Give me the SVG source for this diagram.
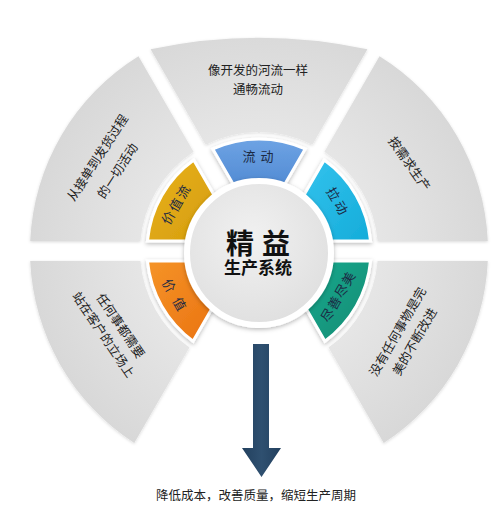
<svg xmlns="http://www.w3.org/2000/svg" width="500" height="519" viewBox="0 0 500 519">
<defs>
  <radialGradient id="gGray" cx="259" cy="251" r="229" gradientUnits="userSpaceOnUse">
    <stop offset="0.5" stop-color="#e6e6e6"/>
    <stop offset="1" stop-color="#d8d8d8"/>
  </radialGradient>
  <linearGradient id="gBlue" x1="0" y1="0" x2="0" y2="1"><stop offset="0" stop-color="#6ea3e4"/><stop offset="1" stop-color="#4f89d2"/></linearGradient>
  <linearGradient id="gCyan" x1="0" y1="0" x2="1" y2="1"><stop offset="0" stop-color="#35c3ee"/><stop offset="1" stop-color="#14acd9"/></linearGradient>
  <linearGradient id="gTeal" x1="0" y1="0" x2="1" y2="1"><stop offset="0" stop-color="#1cab90"/><stop offset="1" stop-color="#108a72"/></linearGradient>
  <linearGradient id="gOrange" x1="0" y1="0" x2="1" y2="1"><stop offset="0" stop-color="#f59428"/><stop offset="1" stop-color="#ea7211"/></linearGradient>
  <linearGradient id="gYellow" x1="0" y1="0" x2="1" y2="1"><stop offset="0" stop-color="#e9b21c"/><stop offset="1" stop-color="#d49c0c"/></linearGradient>
  <radialGradient id="gCenter" cx="0.45" cy="0.4" r="0.7"><stop offset="0" stop-color="#f1f1f1"/><stop offset="1" stop-color="#dddddd"/></radialGradient>
  <linearGradient id="gArrow" x1="0" y1="0" x2="1" y2="0"><stop offset="0" stop-color="#22405e"/><stop offset="0.5" stop-color="#2f5070"/><stop offset="1" stop-color="#22405e"/></linearGradient>
  <filter id="sh" x="-30%" y="-30%" width="160%" height="160%"><feDropShadow dx="0" dy="1.5" stdDeviation="2" flood-color="#000" flood-opacity="0.28"/></filter>
  <filter id="shs" x="-10%" y="-10%" width="120%" height="120%"><feDropShadow dx="0" dy="1" stdDeviation="1.5" flood-color="#000" flood-opacity="0.15"/></filter>
</defs>
<style>
  .txt{font-family:"Liberation Sans","Noto Sans CJK SC",sans-serif;fill:#222;font-size:12.5px;text-anchor:middle;dominant-baseline:central}
  .lbl{font-family:"Liberation Sans","Noto Sans CJK SC",sans-serif;fill:#1c2a44;font-size:13px;text-anchor:middle;dominant-baseline:central}
  .ctr{font-family:"Liberation Sans","Noto Sans CJK SC",sans-serif;fill:#111;font-weight:bold;text-anchor:middle;dominant-baseline:central}
  .gray{fill:url(#gGray);filter:url(#shs)}
  .seg{stroke:#fff;stroke-width:3;filter:url(#sh)}
</style>
<rect width="500" height="519" fill="#fff"/>

<g id="sector-upper-left">
  <path class="gray" d="M30.22,241 A229,229 0 0 1 138.49,56.27 L193.54,151.63 A119,119 0 0 0 140.42,241 Z"/>
  <text class="txt" transform="translate(98,158) rotate(-57)">从接单到发货过程</text>
  <text class="txt" transform="translate(118,171) rotate(-57)">的一切活动</text>
</g>
<g id="sector-top">
  <path class="gray" d="M150.61,49.27 A520,520 0 0 1 367.39,49.27 L312.34,144.63 A119,119 0 0 0 205.66,144.63 Z"/>
  <text class="txt" x="258" y="71">像开发的河流一样</text>
  <text class="txt" x="258" y="90">通畅流动</text>
</g>
<g id="sector-upper-right">
  <path class="gray" d="M379.51,56.27 A229,229 0 0 1 487.78,241 L377.58,241 A119,119 0 0 0 324.46,151.63 Z"/>
  <text class="txt" transform="translate(409,164) rotate(55)">按需求生产</text>
</g>
<g id="sector-lower-right">
  <path class="gray" d="M487.78,261 A229,229 0 0 1 383.73,443.05 L328.59,347.53 A119,119 0 0 0 377.58,261 Z"/>
  <text class="txt" transform="translate(398,332) rotate(-60)">没有任何事物是完</text>
  <text class="txt" transform="translate(415,342) rotate(-60)">美的不断改进</text>
</g>
<g id="sector-lower-left">
  <path class="gray" d="M134.27,443.05 A229,229 0 0 1 30.22,261 L140.42,261 A119,119 0 0 0 189.41,347.53 Z"/>
  <text class="txt" transform="translate(120,326) rotate(56)">任何事都需要</text>
  <text class="txt" transform="translate(103,335) rotate(56)">站在客户的立场上</text>
</g>

<g id="ring-value-stream">
  <path class="seg" fill="url(#gYellow)" d="M147.45,241 A112,112 0 0 1 193.74,159.97 L217.44,201.02 A65,65 0 0 0 194.77,241 Z"/>
  <text class="lbl" transform="translate(176,205) rotate(-60)" x="1" letter-spacing="2">价值流</text>
</g>
<g id="ring-flow">
  <path class="seg" fill="url(#gBlue)" d="M212.80,148.97 A112,112 0 0 1 305.20,148.97 L281.50,190.02 A65,65 0 0 0 236.50,190.02 Z"/>
  <text class="lbl" x="260.5" y="156" letter-spacing="5">流动</text>
</g>
<g id="ring-pull">
  <path class="seg" fill="url(#gCyan)" d="M324.26,159.97 A112,112 0 0 1 370.55,241 L323.23,241 A65,65 0 0 0 300.56,201.02 Z"/>
  <text class="lbl" transform="translate(337,201) rotate(60)" x="1.5" letter-spacing="3">拉动</text>
</g>
<g id="ring-perfection">
  <path class="seg" fill="url(#gTeal)" d="M370.55,261 A112,112 0 0 1 324.93,341.19 L301.33,300.32 A65,65 0 0 0 323.23,261 Z"/>
  <text class="lbl" transform="translate(338,297) rotate(-60)" x="0.5" letter-spacing="1">尽善尽美</text>
</g>
<g id="ring-value">
  <path class="seg" fill="url(#gOrange)" d="M193.07,341.19 A112,112 0 0 1 147.45,261 L194.77,261 A65,65 0 0 0 216.67,300.32 Z"/>
  <text class="lbl" transform="translate(174,295) rotate(60)" x="4" letter-spacing="8">价值</text>
</g>

<g id="center">
  <circle cx="259" cy="253" r="72" fill="url(#gCenter)" stroke="#fff" stroke-width="6" filter="url(#sh)"/>
  <text class="ctr" x="258" y="244" font-size="28">精 益</text>
  <text class="ctr" x="258" y="268" font-size="17">生产系统</text>
</g>

<g id="connectors">
  <path d="M253,344 H269 V448 H281 L261.5,477 L242,448 H253 Z" fill="url(#gArrow)"/>
</g>

<g id="result">
  <text class="txt" x="256" y="496">降低成本，改善质量，缩短生产周期</text>
</g>
</svg>
